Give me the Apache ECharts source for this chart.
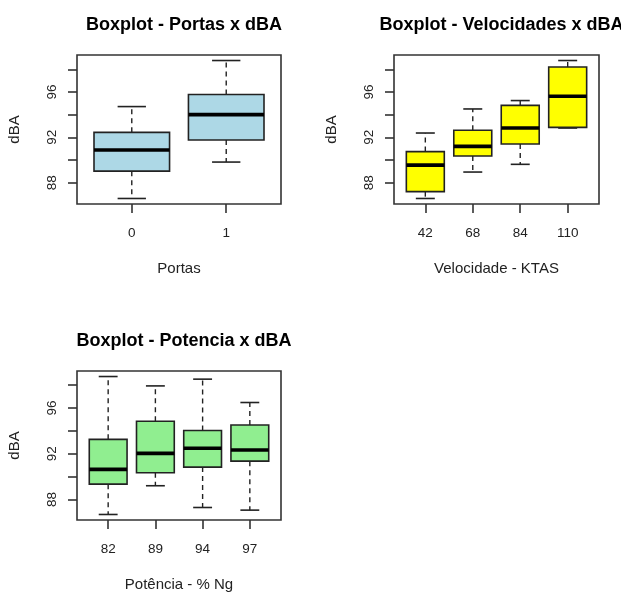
<!DOCTYPE html>
<html>
<head>
<meta charset="utf-8">
<script src="https://cdn.jsdelivr.net/npm/echarts@6/dist/echarts.min.js"></script>
<style>
html, body { margin: 0; padding: 0; background: #fff; }
#boxplots { width: 621px; height: 594px; }
</style>
</head>
<body>
<div id="boxplots"></div>
<script>
// each row: [min whisker, Q1, median, Q3, max whisker]
var portasCats = ['0', '1'];
var portasBox = [[86.61, 89.02, 90.88, 92.44, 94.71],
                 [89.82, 91.76, 94.00, 95.77, 98.77]];

var velocCats = ['42', '68', '84', '110'];
var velocBox = [[86.61, 87.21, 89.55, 90.74, 92.38],
                [88.94, 90.35, 91.20, 92.62, 94.50],
                [89.62, 91.41, 92.82, 94.82, 95.24],
                [92.82, 92.88, 95.62, 98.20, 98.77]];

var potenciaCats = ['82', '89', '94', '97'];
var potenciaBox = [[86.69, 89.34, 90.63, 93.25, 98.74],
                   [89.20, 90.34, 92.03, 94.83, 97.92],
                   [87.30, 90.83, 92.47, 94.02, 98.51],
                   [87.07, 91.35, 92.32, 94.51, 96.47]];

var yTicks = [88, 90, 92, 94, 96, 98];
var yLabels = [88, 92, 96];

var FONT = 'Liberation Sans, Arial, sans-serif';

function makeRenderer(fill, capHalf) {
	return function(params, api) {
		var x = api.value(0);
		var low = api.value(1), q1 = api.value(2), med = api.value(3),
			q3 = api.value(4), high = api.value(5);
		var tl = api.coord([x - 0.4, q3]);
		var br = api.coord([x + 0.4, q1]);
		var mL = api.coord([x - 0.4, med]);
		var mR = api.coord([x + 0.4, med]);
		var c = api.coord([x, q3]);
		var top = api.coord([x, high]);
		var bot = api.coord([x, low]);
		var b1 = api.coord([x, q1]);
		var capL = api.coord([x - capHalf, 0])[0];
		var capR = api.coord([x + capHalf, 0])[0];
		var dash = { stroke: '#222', lineWidth: 1.4, lineDash: [5, 4] };
		var solid = { stroke: '#222', lineWidth: 1.6 };
		return {
			type: 'group',
			children: [
				{ type: 'line', shape: { x1: c[0], y1: c[1], x2: top[0], y2: top[1] }, style: dash },
				{ type: 'line', shape: { x1: b1[0], y1: b1[1], x2: bot[0], y2: bot[1] }, style: dash },
				{ type: 'line', shape: { x1: capL, y1: top[1], x2: capR, y2: top[1] }, style: solid },
				{ type: 'line', shape: { x1: capL, y1: bot[1], x2: capR, y2: bot[1] }, style: solid },
				{ type: 'rect', shape: { x: tl[0], y: tl[1], width: br[0] - tl[0], height: br[1] - tl[1] },
				  style: { fill: fill, stroke: '#222', lineWidth: 1.6 } },
				{ type: 'line', shape: { x1: mL[0], y1: mL[1], x2: mR[0], y2: mR[1] },
				  style: { stroke: '#000', lineWidth: 3.6 } }
			]
		};
	};
}

function buildPanel(idx, cats, boxes, fill, capHalf, xName, grid, title) {
	var n = cats.length;
	var lo = Infinity, hi = -Infinity;
	var data = [];
	var positions = [];
	for (var i = 0; i < n; i++) {
		data.push([i + 1].concat(boxes[i]));
		positions.push(i + 1);
		lo = Math.min(lo, boxes[i][0]);
		hi = Math.max(hi, boxes[i][4]);
	}
	var pad = (hi - lo) * 0.04;
	var xPad = n * 0.04;
	return {
		title: {
			text: title, left: grid.left + grid.width / 2, top: grid.top - 44, textAlign: 'center',
			textStyle: { fontFamily: FONT, fontSize: 18, fontWeight: 'bold', color: '#000' }
		},
		grid: {
			left: grid.left, top: grid.top, width: grid.width, height: grid.height,
			show: true, borderColor: '#333', borderWidth: 1.6, backgroundColor: 'transparent'
		},
		xAxis: {
			type: 'value', gridIndex: idx, min: 0.5 - xPad, max: n + 0.5 + xPad,
			name: xName, nameLocation: 'middle', nameGap: 57,
			nameTextStyle: { fontFamily: FONT, fontSize: 15, color: '#222' },
			splitLine: { show: false }, axisLine: { show: false },
			axisTick: { show: true, length: 9, customValues: positions, lineStyle: { color: '#333', width: 1.6 } },
			axisLabel: {
				customValues: positions, margin: 22, fontFamily: FONT, fontSize: 13.5, color: '#222',
				formatter: function(v) { return cats[Math.round(v) - 1]; }
			}
		},
		yAxis: {
			type: 'value', gridIndex: idx, min: lo - pad, max: hi + pad,
			name: 'dBA', nameLocation: 'middle', nameGap: 55,
			nameTextStyle: { fontFamily: FONT, fontSize: 15, color: '#222' },
			splitLine: { show: false }, axisLine: { show: false },
			axisTick: { show: true, length: 9, customValues: yTicks, lineStyle: { color: '#333', width: 1.6 } },
			axisLabel: {
				customValues: yLabels, rotate: 90, margin: 18, fontFamily: FONT, fontSize: 13.5, color: '#222'
			}
		},
		series: {
			type: 'custom', xAxisIndex: idx, yAxisIndex: idx,
			renderItem: makeRenderer(fill, capHalf),
			encode: { x: 0, y: [1, 2, 3, 4, 5] },
			data: data
		}
	};
}

function initBoxplots() {
	var panels = [
		buildPanel(0, portasCats, portasBox, '#ADD8E6', 0.15, 'Portas',
			{ left: 77, top: 55, width: 204, height: 149 }, 'Boxplot - Portas x dBA'),
		buildPanel(1, velocCats, velocBox, '#FFFF00', 0.2, 'Velocidade - KTAS',
			{ left: 394, top: 55, width: 205, height: 149 }, 'Boxplot - Velocidades x dBA'),
		buildPanel(2, potenciaCats, potenciaBox, '#90EE90', 0.2, 'Potência - % Ng',
			{ left: 77, top: 371, width: 204, height: 149 }, 'Boxplot - Potencia x dBA')
	];
	var option = {
		backgroundColor: '#fff',
		animation: false,
		title: [], grid: [], xAxis: [], yAxis: [], series: []
	};
	panels.forEach(function(p) {
		option.title.push(p.title);
		option.grid.push(p.grid);
		option.xAxis.push(p.xAxis);
		option.yAxis.push(p.yAxis);
		option.series.push(p.series);
	});
	var chart = echarts.init(document.getElementById('boxplots'));
	chart.setOption(option);
}
initBoxplots();
</script>
</body>
</html>
